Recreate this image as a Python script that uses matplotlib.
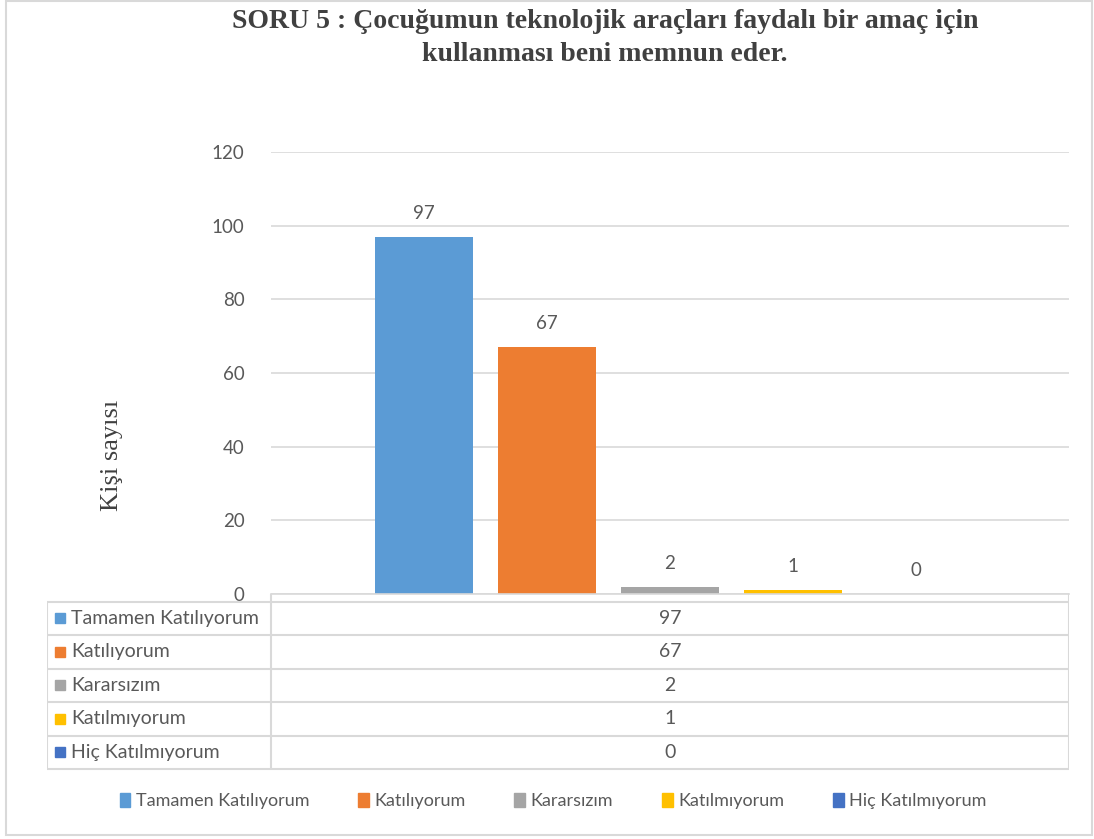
import matplotlib.pyplot as plt
from matplotlib.patches import Patch, Rectangle
import numpy as np

# data
series = ['Tamamen Katılıyorum', 'Katılıyorum', 'Kararsızım', 'Katılmıyorum', 'Hiç Katılmıyorum']
values = [97, 67, 2, 1, 0]
colors = ['#5B9BD5', '#ED7D31', '#A5A5A5', '#FFC000', '#4472C4']
yticks = [0, 20, 40, 60, 80, 100, 120]
title = 'SORU 5 : Çocuğumun teknolojik araçları faydalı bir amaç için\nkullanması beni memnun eder.'
ylabel = 'Kişi sayısı'

W, H = 1094, 839
sans = ['Lato', 'DejaVu Sans']
serif = ['Liberation Serif', 'DejaVu Serif']
txt = '#595959'
line = '#D9D9D9'

def fx(px):
    return px / W

def fy(py):
    return 1 - py / H

fig = plt.figure(figsize=(W / 100, H / 100), dpi=100)

#outer frame
fig.patches.append(Rectangle((fx(6), fy(835)), fx(1092) - fx(6), fy(1) - fy(835),
                             transform=fig.transFigure, fill=False, ec='#D9D9D9', lw=1.5))

#bars
ax = fig.add_axes([fx(271), fy(594), fx(1069) - fx(271), (594 - 152) / H])
x = np.arange(len(values))
bars = ax.bar(x, values, width=0.79, color=colors)
ax.set_xlim(2 - 3.244, 2 + 3.244)
ax.set_ylim(0, 120)
ax.set_yticks(yticks)
ax.set_xticks([])
ax.tick_params(axis='y', length=0, pad=19, labelsize=13.5, labelcolor=txt)
for lab in ax.get_yticklabels():
    lab.set_family(sans)
ax.yaxis.grid(True, color=line, lw=1.2)
ax.set_axisbelow(True)
for s in ['top', 'left', 'right']:
    ax.spines[s].set_visible(False)
ax.spines['bottom'].set_color(line)
ax.spines['bottom'].set_linewidth(1.2)
for b, v in zip(bars, values):
    ax.annotate(str(v), (b.get_x() + b.get_width() / 2, v), xytext=(0, 17),
                textcoords='offset points', ha='center', va='center',
                fontsize=13.5, color=txt, family=sans)

fig.text(fx(112), fy(455), ylabel, rotation=90, ha='center', va='center',
         family=serif, fontsize=19, color='#404040')

fig.text(fx(605), fy(38), title, ha='center', va='center', family=serif,
         fontweight='bold', fontsize=20, color='#404040', linespacing=1.4)

#data table
tax = fig.add_axes([fx(47), fy(772), fx(1069) - fx(47), (772 - 594) / H])
tax.set_xlim(47, 1069)
tax.set_ylim(772, 594)
tax.axis('off')
top = 601.7
rh = 33.5
tax.hlines(top, 47, 1069, color=line, lw=1.5)
for i in range(len(series)):
    tax.hlines(top + (i + 1) * rh, 47, 1069, color=line, lw=1.5)
tax.vlines(47, top, top + len(series) * rh, color=line, lw=1.5)
tax.vlines([271, 1069], 594, top + len(series) * rh, color=line, lw=1.5)
for i, (s, v, c) in enumerate(zip(series, values, colors)):
    yc = top + (i + 0.5) * rh
    tax.plot(60, yc, marker='s', ms=7, color=c, ls='none')
    tax.text(71, yc, s, ha='left', va='center', fontsize=14, color=txt, family=sans)
    tax.text(670, yc, str(v), ha='center', va='center', fontsize=14, color=txt, family=sans)

#legend
handles = [Patch(color=c) for c in colors]
fig.legend(handles, series, loc='center', bbox_to_anchor=(fx(553), fy(801)), ncol=5,
           frameon=False, handlelength=0.6, handleheight=0.8, handletextpad=0.3,
           columnspacing=2.7, prop={'family': sans, 'size': 13},
           labelcolor=txt)

fig.savefig('out.png', dpi=100)
